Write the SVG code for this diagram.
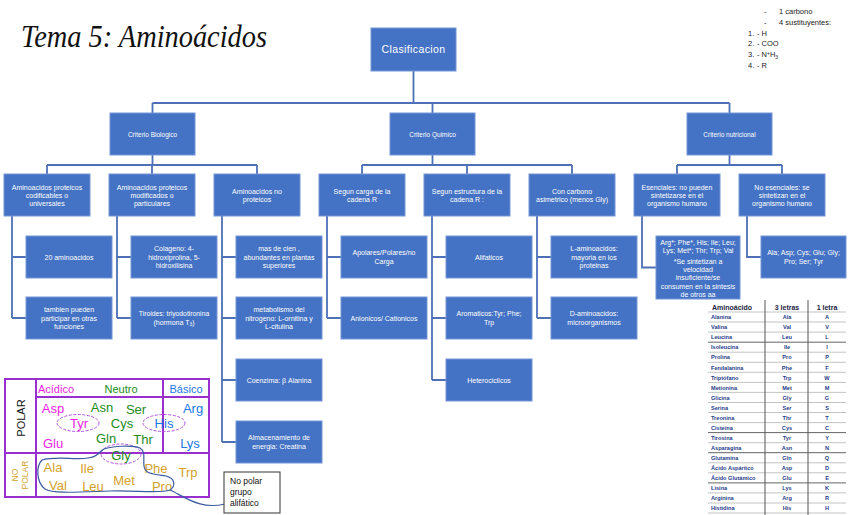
<svg xmlns="http://www.w3.org/2000/svg" width="848" height="515" viewBox="0 0 848 515">
<style>
.box{fill:#4472c4;stroke:#7595d6;stroke-width:1}
.t{font-family:"Liberation Sans",Arial,sans-serif;font-size:7px;fill:#fff;text-anchor:middle}
.t1{font-family:"Liberation Sans",Arial,sans-serif;font-size:6.5px;fill:#fff;text-anchor:middle}
.con{fill:none;stroke:#4d70b6;stroke-width:1.8}
.lst{font-family:"Liberation Sans",Arial,sans-serif;font-size:7.5px;fill:#222}
.th{font-family:"Liberation Sans",Arial,sans-serif;font-size:7px;font-weight:bold;fill:#1b2440}
.td{font-family:"Liberation Sans",Arial,sans-serif;font-size:5.6px;font-weight:bold;fill:#1f3d8a}
.c{text-anchor:middle}
.ch{font-family:"Liberation Sans",Arial,sans-serif;text-anchor:middle}
.pl{stroke:#9a2fd0;stroke-width:2;fill:none}
.el{fill:none;stroke:#b050e0;stroke-width:1;stroke-dasharray:3 1.5}
.mag{fill:#ee1ee6}.grn{fill:#238b1a}.blu{fill:#2277ee}.gld{fill:#d4a12a}
</style>
<rect width="848" height="515" fill="#fff"/>

<text x="21" y="47" font-family="'Liberation Serif',serif" font-style="italic" font-size="32" fill="#111" textLength="246" lengthAdjust="spacingAndGlyphs">Tema 5: Aminoácidos</text>

<g id="notes">
<text class="lst" x="764" y="14">-</text><text class="lst" x="779" y="14">1 carbono</text>
<text class="lst" x="764" y="25">-</text><text class="lst" x="779" y="25">4 sustituyentes:</text>
<text class="lst" x="748" y="36">1.</text><text class="lst" x="757" y="36">- H</text>
<text class="lst" x="748" y="46">2.</text><text class="lst" x="757" y="46">- COO</text>
<text class="lst" x="748" y="57">3.</text><text class="lst" x="757" y="57">- N<tspan font-size="5" dy="-2">+</tspan><tspan dy="2">H</tspan><tspan font-size="5" dy="1.5">3</tspan></text>
<text class="lst" x="748" y="68">4.</text><text class="lst" x="757" y="68">- R</text>
</g>

<g id="connectors">
<path class="con" d="M413.5 71V103M152.5 103H729.5M152.5 103V113M432.5 103V113M729.5 103V113"/>
<path class="con" d="M152.5 155V165M47 165H257M47 165V174M152 165V174M257 165V174"/>
<path class="con" d="M432.5 155V165M362 165H572M362 165V174M467 165V174M572 165V174"/>
<path class="con" d="M729.5 155V165M677 165H782M677 165V174M782 165V174"/>
<path class="con" d="M12 216V318M12 257H26M12 318H26"/>
<path class="con" d="M117 216V318M117 257H131M117 318H131"/>
<path class="con" d="M222 216V442M222 257H236M222 318H236M222 380H236M222 442H236"/>
<path class="con" d="M327 216V318M327 257H341M327 318H341"/>
<path class="con" d="M432 216V380M432 257H446M432 318H446M432 380H446"/>
<path class="con" d="M537 216V318M537 257H551M537 318H551"/>
<path class="con" d="M642 216V267.5H656"/>
<path class="con" d="M747 216V257H761"/>
</g>

<g id="clasificacion"><rect class="box" x="371" y="28" width="85" height="43"/><text class="t" x="413.5" y="53" style="font-size:10.5px;letter-spacing:0.4px">Clasificacion</text></g>
<g id="biologico"><rect class="box" x="110" y="113" width="85" height="42"/><text class="t1" x="152.5" y="136.5">Criterio Biologico</text></g>
<g id="quimico"><rect class="box" x="390" y="113" width="85" height="42"/><text class="t1" x="432.5" y="136.5">Criterio Quimico</text></g>
<g id="nutricional"><rect class="box" x="687" y="113" width="85" height="42"/><text class="t1" x="729.5" y="136.5">Criterio nutricional</text></g>

<g id="codificables"><rect class="box" x="4" y="174" width="86" height="42"/><text class="t" x="47" y="189.5">Aminoacidos proteicos</text><text class="t" x="47" y="197.8">codificables o</text><text class="t" x="47" y="206.1">universales</text></g>
<g id="modificados"><rect class="box" x="109" y="174" width="86" height="42"/><text class="t" x="152" y="189.5">Aminoacidos proteicos</text><text class="t" x="152" y="197.8">modificados o</text><text class="t" x="152" y="206.1">particulares</text></g>
<g id="noproteicos"><rect class="box" x="214" y="174" width="86" height="42"/><text class="t" x="257" y="193.6">Aminoacidos no</text><text class="t" x="257" y="201.9">proteicos</text></g>
<g id="carga"><rect class="box" x="319" y="174" width="86" height="42"/><text class="t" x="362" y="193.6">Segun carga de la</text><text class="t" x="362" y="201.9">cadena R</text></g>
<g id="estructura"><rect class="box" x="424" y="174" width="86" height="42"/><text class="t" x="467" y="193.6">Segun estructura de la</text><text class="t" x="467" y="201.9">cadena R :</text></g>
<g id="asimetrico"><rect class="box" x="529" y="174" width="86" height="42"/><text class="t" x="572" y="193.6">Con carbono</text><text class="t" x="572" y="201.9">asimetrico (menos Gly)</text></g>
<g id="esenciales"><rect class="box" x="634" y="174" width="86" height="42"/><text class="t" x="677" y="189.5">Esenciales: no pueden</text><text class="t" x="677" y="197.8">sintetizarse en el</text><text class="t" x="677" y="206.1">organismo humano</text></g>
<g id="noesenciales"><rect class="box" x="739" y="174" width="86" height="42"/><text class="t" x="782" y="189.5">No esenciales: se</text><text class="t" x="782" y="197.8">sintetizan en el</text><text class="t" x="782" y="206.1">organismo humano</text></g>

<g id="a1"><rect class="box" x="26" y="236" width="86" height="42"/><text class="t" x="69" y="259.5">20 aminoacidos</text></g>
<g id="a2"><rect class="box" x="26" y="297" width="86" height="42"/><text class="t" x="69" y="312.2">tambien pueden</text><text class="t" x="69" y="320.5">participar en otras</text><text class="t" x="69" y="328.8">funciones</text></g>
<g id="b1"><rect class="box" x="131" y="236" width="86" height="42"/><text class="t" x="174" y="251.2">Colageno: 4-</text><text class="t" x="174" y="259.5">hidroxiprolina, 5-</text><text class="t" x="174" y="267.8">hidroxilisina</text></g>
<g id="b2"><rect class="box" x="131" y="297" width="86" height="42"/><text class="t" x="174" y="316.4" style="font-size:6.8px">Tiroides: triyodotironina</text><text class="t" x="174" y="324.7">(hormona T<tspan font-size="5" dy="1.5">3</tspan><tspan dy="-1.5">)</tspan></text></g>
<g id="c1"><rect class="box" x="236" y="236" width="86" height="42"/><text class="t" x="279" y="251.2">mas de cien ,</text><text class="t" x="279" y="259.5">abundantes en plantas</text><text class="t" x="279" y="267.8">superiores</text></g>
<g id="c2"><rect class="box" x="236" y="297" width="86" height="42"/><text class="t" x="279" y="312.2">metabolismo del</text><text class="t" x="279" y="320.5">nitrogeno: L-ornitina y</text><text class="t" x="279" y="328.8">L-citulina</text></g>
<g id="c3"><rect class="box" x="236" y="359" width="86" height="42"/><text class="t" x="279" y="382.5">Coenzima: β Alanina</text></g>
<g id="c4"><rect class="box" x="236" y="421" width="86" height="42"/><text class="t" x="279" y="440.4">Almacenamiento de</text><text class="t" x="279" y="448.7">energia: Creatina</text></g>
<g id="d1"><rect class="box" x="341" y="236" width="86" height="42"/><text class="t" x="384" y="255.4">Apolares/Polares/no</text><text class="t" x="384" y="263.7">Carga</text></g>
<g id="d2"><rect class="box" x="341" y="297" width="86" height="42"/><text class="t" x="384" y="320.5">Anionicos/ Cationicos</text></g>
<g id="e1"><rect class="box" x="446" y="236" width="86" height="42"/><text class="t" x="489" y="259.5">Alifaticos</text></g>
<g id="e2"><rect class="box" x="446" y="297" width="86" height="42"/><text class="t" x="489" y="316.4">Aromaticos:Tyr; Phe;</text><text class="t" x="489" y="324.7">Trp</text></g>
<g id="e3"><rect class="box" x="446" y="359" width="86" height="42"/><text class="t" x="489" y="382.5">Heterociclicos</text></g>
<g id="f1"><rect class="box" x="551" y="236" width="86" height="42"/><text class="t" x="594" y="251.2">L-aminoacidos:</text><text class="t" x="594" y="259.5">mayoria en los</text><text class="t" x="594" y="267.8">proteinas</text></g>
<g id="f2"><rect class="box" x="551" y="297" width="86" height="42"/><text class="t" x="594" y="316.4">D-aminoacidos:</text><text class="t" x="594" y="324.7">microorganismos</text></g>
<g id="g1"><rect class="box" x="656" y="236" width="84" height="63"/>
<text class="t" x="698" y="244.5">Arg*; Phe*, His; Ile; Leu;</text><text class="t" x="698" y="252.5">Lys; Met*; Thr; Trp; Val</text><text class="t" x="698" y="263.5">*Se sintetizan a</text><text class="t" x="698" y="271.5">velocidad</text><text class="t" x="698" y="279.5">insuficiente/se</text><text class="t" x="698" y="288.5">consumen en la sintesis</text><text class="t" x="698" y="296.5">de otros aa</text></g>
<g id="h1"><rect class="box" x="761" y="236" width="85" height="42"/><text class="t" x="803.5" y="255.4">Ala; Asp; Cys; Glu; Gly;</text><text class="t" x="803.5" y="263.7">Pro; Ser; Tyr</text></g>

<g id="tabla">
<rect x="706" y="300" width="142" height="215" fill="#fff"/>
<g stroke="#aaa" stroke-width="0.7">
<path d="M708 312H846M708 322H846M708 332.1H846M708 352.2H846M708 362.3H846M708 372.3H846M708 382.4H846M708 392.4H846M708 402.5H846M708 412.5H846M708 422.6H846M708 442.7H846M708 462.8H846M708 472.8H846M708 492.9H846M708 503H846M708 513H846"/>
</g>
<path d="M708 342.2H846M708 432.6H846M708 452.7H846M708 482.9H846" stroke="#555" stroke-width="0.9"/>
<path d="M765 300V515M808 300V515" stroke="#555" stroke-width="1"/>
<text class="th" x="712" y="310">Aminoácido</text><text class="th c" x="787" y="310">3 letras</text><text class="th c" x="827" y="310">1 letra</text>
<g class="td">
<text x="711" y="319.2">Alanina</text><text x="711" y="329.3">Valina</text><text x="711" y="339.3">Leucina</text><text x="711" y="349.4">Isoleucina</text><text x="711" y="359.4">Prolina</text><text x="711" y="369.5">Fenilalanina</text><text x="711" y="379.5">Triptófano</text><text x="711" y="389.6">Metionina</text><text x="711" y="399.6">Glicina</text><text x="711" y="409.7">Serina</text><text x="711" y="419.7">Treonina</text><text x="711" y="429.8">Cisteína</text><text x="711" y="439.8">Tirosina</text><text x="711" y="449.9">Asparagina</text><text x="711" y="459.9">Glutamina</text><text x="711" y="470">Ácido Aspártico</text><text x="711" y="480">Ácido Glutámico</text><text x="711" y="490.1">Lisina</text><text x="711" y="500.1">Arginina</text><text x="711" y="510.2">Histidina</text>
</g>
<g class="td c">
<text x="787" y="319.2">Ala</text><text x="787" y="329.3">Val</text><text x="787" y="339.3">Leu</text><text x="787" y="349.4">Ile</text><text x="787" y="359.4">Pro</text><text x="787" y="369.5">Phe</text><text x="787" y="379.5">Trp</text><text x="787" y="389.6">Met</text><text x="787" y="399.6">Gly</text><text x="787" y="409.7">Ser</text><text x="787" y="419.7">Thr</text><text x="787" y="429.8">Cys</text><text x="787" y="439.8">Tyr</text><text x="787" y="449.9">Asn</text><text x="787" y="459.9">Gln</text><text x="787" y="470">Asp</text><text x="787" y="480">Glu</text><text x="787" y="490.1">Lys</text><text x="787" y="500.1">Arg</text><text x="787" y="510.2">His</text>
<text x="827" y="319.2">A</text><text x="827" y="329.3">V</text><text x="827" y="339.3">L</text><text x="827" y="349.4">I</text><text x="827" y="359.4">P</text><text x="827" y="369.5">F</text><text x="827" y="379.5">W</text><text x="827" y="389.6">M</text><text x="827" y="399.6">G</text><text x="827" y="409.7">S</text><text x="827" y="419.7">T</text><text x="827" y="429.8">C</text><text x="827" y="439.8">Y</text><text x="827" y="449.9">N</text><text x="827" y="459.9">Q</text><text x="827" y="470">D</text><text x="827" y="480">E</text><text x="827" y="490.1">K</text><text x="827" y="500.1">R</text><text x="827" y="510.2">H</text>
</g>
</g>

<g id="polaridad">
<rect class="pl" x="5" y="379" width="204" height="118"/>
<path class="pl" d="M36 379V497M5 453H209M36 397H209M163 379V453"/>
<text class="ch" font-size="11" fill="#111" transform="rotate(-90 25 418)" x="25" y="418">POLAR</text>
<text class="ch gld" font-size="8.5" transform="rotate(-90 18 475)" x="18" y="475">NO</text>
<text class="ch gld" font-size="8.5" transform="rotate(-90 28 475)" x="28" y="475">POLAR</text>
<g font-size="11"><text class="ch mag" x="56" y="393">Acídico</text><text class="ch grn" x="121" y="393">Neutro</text><text class="ch blu" x="186" y="393">Básico</text></g>
<g font-size="13">
<text class="ch mag" x="53" y="412.5">Asp</text><text class="ch mag" x="79" y="427.5">Tyr</text><text class="ch mag" x="53" y="447.5">Glu</text>
<text class="ch grn" x="102" y="411.5">Asn</text><text class="ch grn" x="136" y="413.5">Ser</text><text class="ch grn" x="122" y="427.5">Cys</text><text class="ch grn" x="106" y="442.5">Gln</text><text class="ch grn" x="143" y="443.5">Thr</text><text class="ch grn" x="121" y="459.5">Gly</text>
<text class="ch blu" x="193" y="412.5">Arg</text><text class="ch blu" x="164" y="427.5">His</text><text class="ch blu" x="190" y="447.5">Lys</text>
<text class="ch gld" x="53" y="471.5">Ala</text><text class="ch gld" x="87" y="472.5">Ile</text><text class="ch gld" x="156" y="472.5">Phe</text><text class="ch gld" x="188" y="476.5">Trp</text><text class="ch gld" x="58" y="489.5">Val</text><text class="ch gld" x="93" y="490.5">Leu</text><text class="ch gld" x="124" y="484.5">Met</text><text class="ch gld" x="162" y="490.5">Pro</text>
</g>
<ellipse class="el" cx="78" cy="423" rx="21" ry="8.5"/>
<ellipse class="el" cx="164" cy="423" rx="21" ry="8.5"/>
<ellipse class="el" cx="121" cy="454" rx="20" ry="10"/>
<path d="M42 460C36 466 36 482 45 489C52 494 80 492 110 491C135 490 160 494 170 490C176 486 175 478 166 476C152 474 145 474 144 466C143 458 146 452 140 448C133 445 112 446 104 449C98 452 99 457 88 458C75 460 55 456 42 460Z" fill="none" stroke="#3b5ba0" stroke-width="1.2"/>
<path d="M170 490C185 497 200 510 225 504" fill="none" stroke="#3b5ba0" stroke-width="1.2"/>
</g>

<g id="nota">
<rect x="224" y="472" width="56" height="41" fill="#fff" stroke="#333" stroke-width="1"/>
<g font-family="'Liberation Sans',Arial,sans-serif" font-size="8.5" fill="#111"><text x="230" y="484">No polar</text><text x="230" y="495">grupo</text><text x="230" y="506">alifático</text></g>
</g>
</svg>
